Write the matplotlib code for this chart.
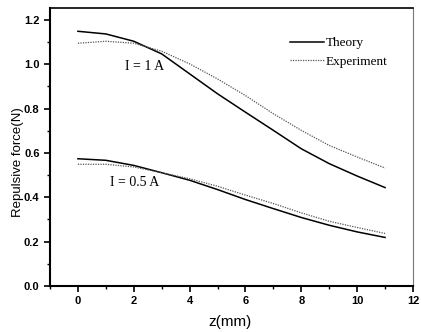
import numpy as np
import matplotlib.pyplot as plt
from matplotlib.ticker import MultipleLocator

z = [0, 1, 2, 3, 4, 5, 6, 7, 8, 9, 10, 11]
theory_1A = [1.149, 1.137, 1.104, 1.047, 0.957, 0.867, 0.784, 0.702, 0.619, 0.552, 0.496, 0.444]
exp_1A = [1.095, 1.104, 1.095, 1.059, 1.002, 0.934, 0.859, 0.777, 0.702, 0.634, 0.582, 0.532]
theory_05A = [0.574, 0.567, 0.544, 0.511, 0.477, 0.435, 0.390, 0.349, 0.309, 0.274, 0.244, 0.219]
exp_05A = [0.549, 0.549, 0.537, 0.511, 0.484, 0.450, 0.410, 0.372, 0.330, 0.292, 0.264, 0.237]

sans = "Liberation Sans"
serif = "Liberation Serif"

fig = plt.figure(figsize=(4.21, 3.32), dpi=100)
ax = fig.add_axes([50 / 421, 46 / 332, 363 / 421, 278 / 332])

ax.plot(z, theory_1A, color="black", lw=1.1, label="Theory")
ax.plot(z, exp_1A, color="#555555", lw=0.9, ls=(0, (1, 1)), label="Experiment")
ax.plot(z, theory_05A, color="black", lw=1.1)
ax.plot(z, exp_05A, color="#555555", lw=0.9, ls=(0, (1, 1)))

ax.text(1.70, 0.99, "I = 1 A", family=serif, fontsize=10, va="center")
ax.text(1.16, 0.465, "I = 0.5 A", family=serif, fontsize=10, va="center")

ax.set_xlim(-1, 12)
ax.set_ylim(0, 1.254)
ax.xaxis.set_major_locator(MultipleLocator(2))
ax.xaxis.set_minor_locator(MultipleLocator(1))
ax.yaxis.set_major_locator(MultipleLocator(0.2))
ax.yaxis.set_minor_locator(MultipleLocator(0.1))
ax.tick_params(which="both", direction="out", top=False, right=False)
ax.tick_params(which="major", length=4, width=1.2, labelsize=8)
ax.tick_params(which="minor", length=2.5, width=1)
for lab in ax.get_xticklabels() + ax.get_yticklabels():
    lab.set_family(sans)
    lab.set_fontweight("bold")
ax.spines["left"].set_linewidth(1.5)
ax.spines["bottom"].set_linewidth(1.5)
ax.spines["top"].set_linewidth(1.2)
ax.spines["right"].set_linewidth(0.8)
ax.spines["right"].set_color("#777777")

ax.set_xlabel("z(mm)", family=sans, fontsize=11)
ax.xaxis.set_label_coords(0.496, -0.105)
ax.set_ylabel("Repulsive force(N)", family=sans, fontsize=9.5)
ax.yaxis.set_label_coords(-0.072, 0.446)

ax.legend(loc="upper left", frameon=False, prop={"family": serif, "size": 9.5},
          handlelength=2.6, handletextpad=0.15, labelspacing=0.45, borderpad=0,
          bbox_to_anchor=(0.642, 0.919))

fig.savefig("out.png", dpi=100)
